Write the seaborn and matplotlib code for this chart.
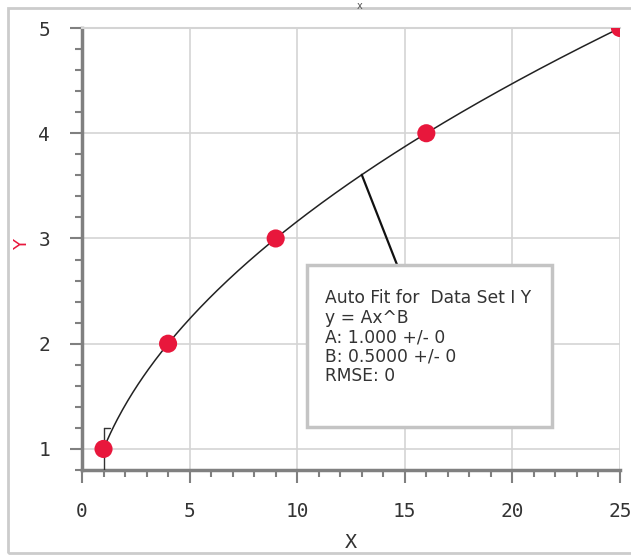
import numpy as np
import pandas as pd
import matplotlib
matplotlib.use("Agg")
import matplotlib.pyplot as plt
from matplotlib.patches import Rectangle
from matplotlib.ticker import MultipleLocator
import seaborn as sns

# ---- data ----
x_data = [1, 4, 9, 16, 25]
y_data = [1, 2, 3, 4, 5]
fit_A = 1.0
fit_B = 0.5
fit_lines = ["Auto Fit for  Data Set I Y", "y = Ax^B", "A: 1.000 +/- 0",
             "B: 0.5000 +/- 0", "RMSE: 0"]
x_ticks = [0, 5, 10, 15, 20, 25]
y_ticks = [1, 2, 3, 4, 5]

sns.set_style("white")
plt.rcParams['font.family'] = ['DejaVu Sans']

fig = plt.figure(figsize=(6.31, 5.55), dpi=100)
ax = fig.add_axes([82/631, 85/555, 538/631, 442/555])

df = pd.DataFrame({"x": x_data, "y": y_data})
xs = np.linspace(min(x_data), max(x_data), 300)
fit_df = pd.DataFrame({"x": xs, "y": fit_A * xs ** fit_B})

sns.lineplot(data=fit_df, x="x", y="y", ax=ax, color="#222222", lw=1.1, zorder=3)
sns.scatterplot(data=df, x="x", y="y", ax=ax, color="#e8173c", s=170,
                edgecolor="none", zorder=4)

ax.set_xlim(0, 25)
ax.set_ylim(0.8, 5)
ax.set_xticks(x_ticks)
ax.set_yticks(y_ticks)
ax.xaxis.set_minor_locator(MultipleLocator(1))
ax.yaxis.set_minor_locator(MultipleLocator(0.2))
ax.grid(True, which="major", color="#d4d4d4", lw=1.2)
ax.set_axisbelow(True)

for s in ["left", "bottom"]:
    ax.spines[s].set_color("#808080")
    ax.spines[s].set_linewidth(2.5)
ax.spines["top"].set_color("#d4d4d4")
ax.spines["top"].set_linewidth(1.5)
ax.spines["right"].set_visible(False)

ax.tick_params(which="major", direction="out", length=9, width=1.5,
               color="#808080", labelsize=14, pad=5,
               left=True, bottom=True)
ax.tick_params(which="minor", direction="out", length=5, width=1.5,
               color="#808080", left=True, bottom=True)
for lab in ax.get_xticklabels() + ax.get_yticklabels():
    lab.set_fontfamily("DejaVu Sans Mono")
    lab.set_color("#333333")
ax.tick_params(axis="x", pad=14)
ax.tick_params(axis="y", pad=14)

ax.set_xlabel("X", fontfamily="DejaVu Sans Mono", fontsize=14.5, color="#333333")
ax.xaxis.set_label_coords(0.5, -(542 - 470) / 442)
ax.xaxis.label.set_va("center")
ax.set_ylabel("Y", fontfamily="DejaVu Sans", fontsize=13, color="#e8173c")
ax.yaxis.set_label_coords((22 - 82) / 538, (470 - 245) / 442)
ax.yaxis.label.set_va("center")

# annotation leader line and box
x_anchor = 13.0
ax.plot([x_anchor, 14.64], [fit_A * x_anchor ** fit_B, 2.75], color="#111111",
        lw=1.6, zorder=3)
box = Rectangle((10.46, 1.21), 21.84 - 10.46, 2.75 - 1.21, facecolor="white",
                edgecolor="#c4c4c4", lw=2.5, zorder=5)
ax.add_patch(box)
for i, t in enumerate(fit_lines):
    ax.text(11.3, 2.43 - i * 0.185, t, fontsize=12.3,
            fontfamily=["Liberation Sans Narrow", "DejaVu Sans"],
            color="#333333", va="center", ha="left", zorder=6)

# small artefacts near first point
ax.plot([1, 1], [0.8, 1.2], color="#333333", lw=1, zorder=3)
ax.plot([1, 1.3], [1.2, 1.2], color="#333333", lw=1, zorder=3)

# tiny title and outer frame
fig.text(360/631, 0.998, "x", fontsize=7, ha="center", va="top", color="#555555")
fig.patches.append(Rectangle((8/631, 2/555), 630/631, 545/555, transform=fig.transFigure,
                             facecolor="none", edgecolor="#cccccc", lw=2, zorder=0))

fig.savefig("out.png", dpi=100)
